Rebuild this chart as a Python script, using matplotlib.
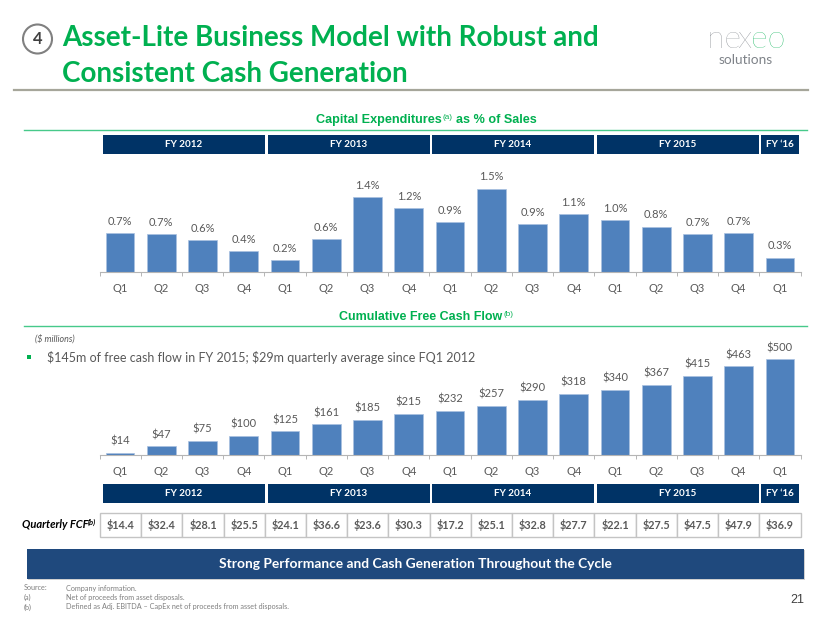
import numpy as np
import matplotlib
matplotlib.use("Agg")
import matplotlib.pyplot as plt
from matplotlib.patches import Rectangle, Circle

# chart values (bar heights, labels as printed)
quarters = ["Q1", "Q2", "Q3", "Q4"] * 4 + ["Q1"]
capex_pct = [0.69, 0.67, 0.57, 0.37, 0.21, 0.58, 1.34, 1.15, 0.89, 1.50, 0.85, 1.04, 0.93, 0.81, 0.68, 0.69, 0.25]
capex_labels = ["0.7%", "0.7%", "0.6%", "0.4%", "0.2%", "0.6%", "1.4%", "1.2%", "0.9%",
                "1.5%", "0.9%", "1.1%", "1.0%", "0.8%", "0.7%", "0.7%", "0.3%"]
cum_fcf = [14, 47, 75, 100, 125, 161, 185, 215, 232, 257, 290, 318, 340, 367, 415, 463, 500]
quarterly_fcf = ["$14.4", "$32.4", "$28.1", "$25.5", "$24.1", "$36.6", "$23.6", "$30.3", "$17.2",
                 "$25.1", "$32.8", "$27.7", "$22.1", "$27.5", "$47.5", "$47.9", "$36.9"]
fy_labels = ["FY 2012", "FY 2013", "FY 2014", "FY 2015", "FY \u201816"]
fy_edges = [(103, 265), (267.5, 429.5), (432, 594), (596.5, 758.5), (761, 799)]
notes = [("Source:", "Company information."),
         ("(a)", "Net of proceeds from asset disposals."),
         ("(b)", "Defined as Adj. EBITDA \u2013 CapEx net of proceeds from asset disposals.")]

GREEN = "#00b050"
RULE = "#47c98a"
NAVY = "#003366"
BAR = "#4f81bd"
TXT = "#595959"
LOGO = "#7f8389"
W, H = 830, 623
BODY = "Lato"
HEAD = "Liberation Sans"

fig = plt.figure(figsize=(W / 100, H / 100), dpi=100, facecolor="white")

# full-figure layer in pixel coordinates for the slide furniture
bg = fig.add_axes([0, 0, 1, 1])
bg.set_xlim(0, W)
bg.set_ylim(H, 0)
bg.axis("off")


def label(x, y, s, size, color=TXT, weight="normal", family=BODY, ha="center", style="normal"):
    return bg.text(x, y, s, fontsize=size, color=color, fontweight=weight, family=family, ha=ha,
                   va="center", fontstyle=style, parse_math=False)


def fy_row(y0, y1):
    for name, (a, b) in zip(fy_labels, fy_edges):
        bg.add_patch(Rectangle((a, y0), b - a, y1 - y0, fc=NAVY, ec="none"))
        label((a + b) / 2, (y0 + y1) / 2, name, 7.1, color="white", weight="bold")


def bar_axes(y_top, y_base, ppu, values, texts):
    ax = fig.add_axes([99.5 / W, 1 - y_base / H, 701 / W, (y_base - y_top) / H])
    ax.patch.set_alpha(0)
    x = np.arange(len(values))
    bars = ax.bar(x, values, width=0.695, color=BAR, edgecolor="#a9c1e0", linewidth=0.5)
    ax.set_xlim(-0.5, len(values) - 0.5)
    ax.set_ylim(0, (y_base - y_top) / ppu)
    ax.bar_label(bars, labels=texts, padding=4.5, fontsize=8, color=TXT, family=BODY)
    ax.set_xticks(x, quarters, fontsize=8, color=TXT, family=BODY)
    ax.set_xticks(np.arange(len(values) + 1) - 0.5, minor=True)
    ax.tick_params(axis="x", which="major", length=0, pad=8)
    ax.tick_params(axis="x", which="minor", length=3, color="#b5b5b5", direction="out", width=0.7)
    ax.set_yticks([])
    for s in ["top", "left", "right"]:
        ax.spines[s].set_visible(False)
    ax.spines["bottom"].set_color("#b5b5b5")
    return ax


# title block
bg.add_patch(Circle((37.5, 39), 14.5, fc="white", ec="#808080", lw=1.5))
label(37.5, 39.5, "4", 12, color="#404040", weight="bold")
label(62, 38, "Asset-Lite Business Model with Robust and", 20, color=GREEN, weight="bold", ha="left")
label(62, 74, "Consistent Cash Generation", 20, color=GREEN, weight="bold", ha="left")
bg.plot([14, 808], [90, 90], color="#a6a69a", lw=1.6)

# logo
label(707, 40, "ne", 23, color=LOGO, weight="light", ha="left")
label(737, 40, "x", 23, color=LOGO, weight="light", ha="left")
label(751, 40, "eo", 23, color=GREEN, weight="light", ha="left")
label(746, 60, "solutions", 9.8, color=LOGO)

# capex section
label(316, 120, "Capital Expenditures", 9.1, color=GREEN, weight="bold", family=HEAD, ha="left")
label(442, 117.5, "(a)", 5.8, color=GREEN, family=HEAD, ha="left")
label(456, 120, "as % of Sales", 9.1, color=GREEN, weight="bold", family=HEAD, ha="left")
bg.plot([24, 807], [130, 130], color=RULE, lw=1)
fy_row(134.5, 154)
bar_axes(165, 271.5, 55.3, capex_pct, capex_labels)

# free cash flow section
label(339, 316.5, "Cumulative Free Cash Flow", 9, color=GREEN, weight="bold", family=HEAD, ha="left")
label(503, 314, "(b)", 5.8, color=GREEN, family=HEAD, ha="left")
bg.plot([24, 807], [326, 326], color=RULE, lw=1)
label(35, 339, "($ millions)", 6.4, style="italic", ha="left")
bg.add_patch(Rectangle((27, 355), 4, 4, fc=GREEN, ec="none"))
label(47, 357, "$145m of free cash flow in FY 2015; $29m quarterly average since FQ1 2012", 9, ha="left")
bar_axes(335, 455.3, 0.192, cum_fcf, [f"${v}" for v in cum_fcf])

# quarterly table
fy_row(483.5, 502.7)
label(88, 525, "Quarterly FCF", 8, color="black", weight="bold", style="italic", ha="right")
label(88, 522, "(b)", 5.5, color="black", weight="bold", style="italic", ha="left")
cell = 700.5 / len(quarterly_fcf)
for i, val in enumerate(quarterly_fcf):
    bg.add_patch(Rectangle((100 + i * cell, 512.5), cell, 24, fc="white", ec="#c4c4c4", lw=1))
    label(100 + (i + 0.5) * cell, 525, val, 7.8, weight="bold")

# banner and footnotes
bg.add_patch(Rectangle((28, 550), 777, 30, fc="#d0d0d0", ec="none"))
bg.add_patch(Rectangle((27, 549), 777, 30, fc="#1f497d", ec="none"))
label(415, 564.3, "Strong Performance and Cash Generation Throughout the Cycle", 9.95, color="white", weight="bold")
for i, (tag, body) in enumerate(notes):
    label(24, 588 + i * 9.5, tag, 5.2, color="#7f7f7f", ha="left")
    label(66, 588 + i * 9.5, body, 5.2, color="#7f7f7f", ha="left")
label(804, 600, "21", 9, color="#404040", family=HEAD, ha="right")

fig.savefig("out.png", dpi=100)
